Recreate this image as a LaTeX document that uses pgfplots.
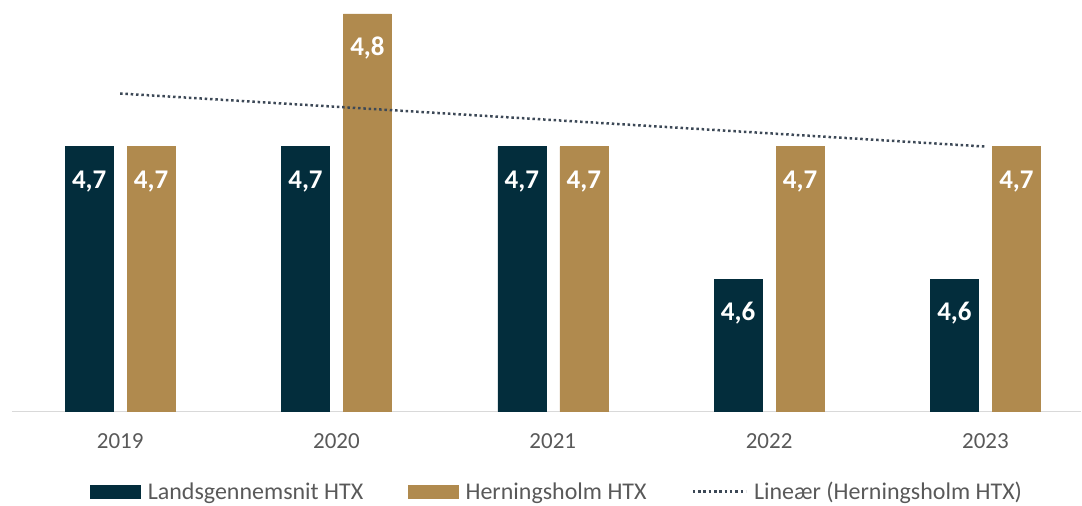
\documentclass[border=0pt]{standalone}
\usepackage{fontspec}
\setmainfont{Carlito}
\usepackage{pgfplots}
\pgfplotsset{compat=1.18}
\definecolor{navy}{RGB}{3,45,60}
\definecolor{gold}{RGB}{176,138,78}
\definecolor{trend}{RGB}{60,72,86}
\definecolor{axgray}{RGB}{217,217,217}
\definecolor{txtgray}{RGB}{89,89,89}
\begin{document}
\begin{tikzpicture}
\begin{axis}[
  scale only axis,
  width=1070pt, height=398pt,
  xmin=-0.5, xmax=4.443,
  ymin=4.5, ymax=4.8,
  axis x line=bottom,
  axis y line=none,
  x axis line style={draw=axgray, line width=1.5pt, -},
  xtick={0,1,2,3,4},
  xticklabels={2019,2020,2021,2022,2023},
  major tick length=0pt,
  xticklabel style={font=\fontsize{23}{27}\selectfont, text=txtgray, anchor=base, yshift=-37pt},
  ybar=14pt,
  bar width=48pt,
  clip=false,
  /pgf/number format/.cd, use comma, fixed, fixed zerofill, precision=1, assume math mode=true,
  /pgfplots/.cd,
  nodes near coords,
  every node near coord/.append style={font=\bfseries\fontsize{27}{30}\selectfont, text=white, anchor=base, yshift=-41.5pt},
  legend style={draw=none, fill=none, at={(0.509,-0.201)}, anchor=center,
    font=\fontsize{24}{28}\selectfont, text=txtgray, legend columns=3,
    nodes={inner xsep=0pt},
    /tikz/every odd column/.append style={column sep=7pt},
    /tikz/every even column/.append style={column sep=45pt}},
  legend cell align=left,
]
\addplot[fill=navy, draw=navy,
  legend image code/.code={\fill[navy] (0pt,-6.5pt) rectangle (50pt,6.5pt);}]
  coordinates {(0,4.7) (1,4.7) (2,4.7) (3,4.6) (4,4.6)};
\addlegendentry{Landsgennemsnit HTX}
\addplot[fill=gold, draw=gold,
  legend image code/.code={\fill[gold] (0pt,-6.5pt) rectangle (50pt,6.5pt);}]
  coordinates {(0,4.7) (1,4.8) (2,4.7) (3,4.7) (4,4.7)};
\addlegendentry{Herningsholm HTX}
\addplot[sharp plot, nodes near coords={}, draw=trend, line width=2.5pt, dash pattern=on 2.5pt off 2.8pt,
  legend image code/.code={\draw[trend, line width=2.5pt, dash pattern=on 2.5pt off 2.8pt] (0pt,0pt) -- (53pt,0pt);}]
  coordinates {(0,4.74) (1,4.73) (2,4.72) (3,4.71) (4,4.70)};
\addlegendentry{Lineær (Herningsholm HTX)}
\end{axis}
\useasboundingbox (-12pt,-94pt) rectangle (1070pt,412pt);
\end{tikzpicture}
\end{document}
